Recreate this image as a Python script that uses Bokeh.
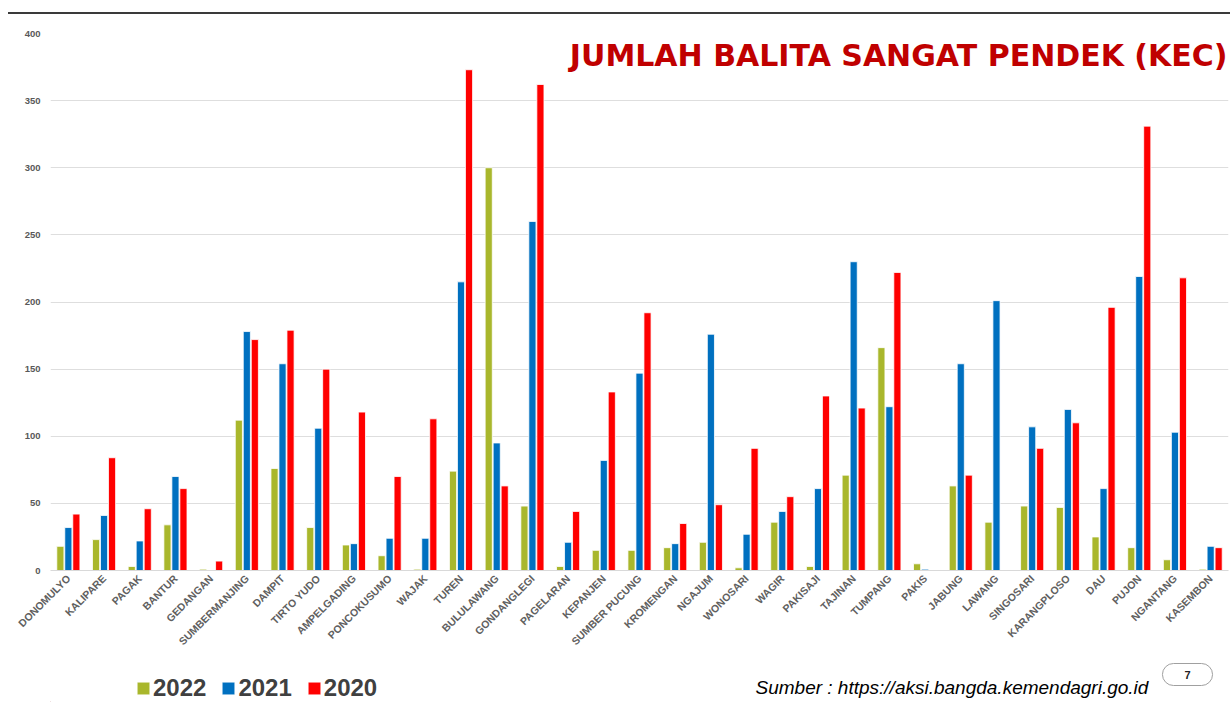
import math
from bokeh.plotting import figure
from bokeh.layouts import column
from bokeh.models import (FactorRange, ColumnDataSource, Legend, LegendItem, Label,
                          FixedTicker, Div)
from bokeh.transform import dodge
from bokeh.embed import file_html
from bokeh.resources import INLINE

kecamatan = ["DONOMULYO", "KALIPARE", "PAGAK", "BANTUR", "GEDANGAN", "SUMBERMANJING",
             "DAMPIT", "TIRTO YUDO", "AMPELGADING", "PONCOKUSUMO", "WAJAK", "TUREN",
             "BULULAWANG", "GONDANGLEGI", "PAGELARAN", "KEPANJEN", "SUMBER PUCUNG",
             "KROMENGAN", "NGAJUM", "WONOSARI", "WAGIR", "PAKISAJI", "TAJINAN", "TUMPANG",
             "PAKIS", "JABUNG", "LAWANG", "SINGOSARI", "KARANGPLOSO", "DAU", "PUJON",
             "NGANTANG", "KASEMBON"]
v2022 = [18, 23, 3, 34, 1, 112, 76, 32, 19, 11, 1, 74, 300, 48, 3, 15, 15, 17, 21, 2,
         36, 3, 71, 166, 5, 63, 36, 48, 47, 25, 17, 8, 1]
v2021 = [32, 41, 22, 70, 0, 178, 154, 106, 20, 24, 24, 215, 95, 260, 21, 82, 147, 20,
         176, 27, 44, 61, 230, 122, 1, 154, 201, 107, 120, 61, 219, 103, 18]
v2020 = [42, 84, 46, 61, 7, 172, 179, 150, 118, 70, 113, 373, 63, 362, 44, 133, 192,
         35, 49, 91, 55, 130, 121, 222, 0, 71, 0, 91, 110, 196, 331, 218, 17]
y_ticks = [0, 50, 100, 150, 200, 250, 300, 350, 400]
years = ["2022", "2021", "2020"]
colors = ["#a9b72c", "#0070c0", "#ff0000"]

src = ColumnDataSource(dict(k=kecamatan, a=v2022, b=v2021, c=v2020))

# ---------------- main chart ----------------
p = figure(x_range=FactorRange(*kecamatan), y_range=(0, 400),
           width=1230, height=640, output_backend="svg", toolbar_location=None,
           min_border_left=50, min_border_right=2, min_border_top=19, min_border_bottom=83)
p.outline_line_color = None
p.background_fill_color = "white"
p.border_fill_color = "white"

for off, col, name in zip([-0.224, 0.0, 0.224], colors, ["a", "b", "c"]):
    p.vbar(x=dodge("k", off, range=p.x_range), top=name, width=0.2, source=src,
           fill_color=col, line_color="white", line_width=0.8)

p.xgrid.grid_line_color = None
p.ygrid.grid_line_color = "#dedede"
p.ygrid.grid_line_width = 1
p.ygrid.ticker = FixedTicker(ticks=y_ticks)
p.yaxis.ticker = FixedTicker(ticks=y_ticks)
p.yaxis.axis_line_color = None
p.yaxis.major_tick_line_color = None
p.yaxis.major_tick_out = 0
p.yaxis.major_tick_in = 0
p.yaxis.minor_tick_line_color = None
p.yaxis.major_label_text_font = "Liberation Sans"
p.yaxis.major_label_text_font_size = "9.5px"
p.yaxis.major_label_text_font_style = "bold"
p.yaxis.major_label_text_color = "#595959"
p.yaxis.major_label_standoff = 10

p.xaxis.axis_line_color = "#d9d9d9"
p.xaxis.major_tick_line_color = None
p.xaxis.major_tick_out = 0
p.xaxis.major_tick_in = 0
p.xaxis.major_label_orientation = math.pi / 4
p.xaxis.major_label_text_font = "Liberation Sans"
p.xaxis.major_label_text_font_size = "10.5px"
p.xaxis.major_label_text_font_style = "bold"
p.xaxis.major_label_text_color = "#606060"
p.xaxis.major_label_standoff = 6

title = Label(x=1177, y=515, x_units="screen", y_units="screen",
              text="JUMLAH BALITA SANGAT PENDEK (KEC)", text_align="right",
              text_baseline="alphabetic", text_font="DejaVu Sans", text_font_style="bold",
              text_font_size="30px", text_color="#c00000")
p.add_layout(title)

# ---------------- footer: legend, source, page number ----------------
f = figure(x_range=(50, 1228), y_range=(0, 48), width=1230, height=48,
           output_backend="svg", toolbar_location=None, x_axis_type=None, y_axis_type=None,
           min_border_left=50, min_border_right=2, min_border_top=0, min_border_bottom=0)
f.outline_line_color = None
f.grid.grid_line_color = None
f.background_fill_color = "white"
f.border_fill_color = "white"

leg_src = ColumnDataSource(dict(x=[-1000], top=[1]))
rs = [f.vbar(x="x", top="top", width=1, source=leg_src, fill_color=c,
             line_color="white", line_width=0.8) for c in colors]

legend = Legend(items=[LegendItem(label=y, renderers=[r]) for y, r in zip(years, rs)],
                orientation="horizontal", location=(85, 0),
                label_text_font="Liberation Sans", label_text_font_style="bold",
                label_text_font_size="24px", label_text_color="#404040",
                glyph_width=16, glyph_height=16, label_standoff=2, spacing=14,
                padding=0, margin=0, border_line_color=None, background_fill_alpha=0)
f.add_layout(legend, "center")

source_lbl = Label(x=755, y=15, text="Sumber : https://aksi.bangda.kemendagri.go.id",
                   text_font="Liberation Sans", text_font_style="italic",
                   text_font_size="19px", text_color="#000000", text_baseline="alphabetic")
f.add_layout(source_lbl)

page_lbl = Label(x=1187, y=28, text="7",
                 text_align="center", text_baseline="middle", text_font="Liberation Sans",
                 text_font_style="bold", text_font_size="11px", text_color="#222222",
                 padding=(22, 22, 7, 7), border_radius=12, background_fill_color="white",
                 border_line_color="#a0a0a0", border_line_width=1)
f.add_layout(page_lbl)

top_line = Div(width=1222, height=2, margin=(12, 0, 0, 8),
               styles={"background-color": "#3a3a3a"})
layout = column(top_line, p, f, spacing=0)

open("out.html", "w").write(file_html(layout, INLINE))
